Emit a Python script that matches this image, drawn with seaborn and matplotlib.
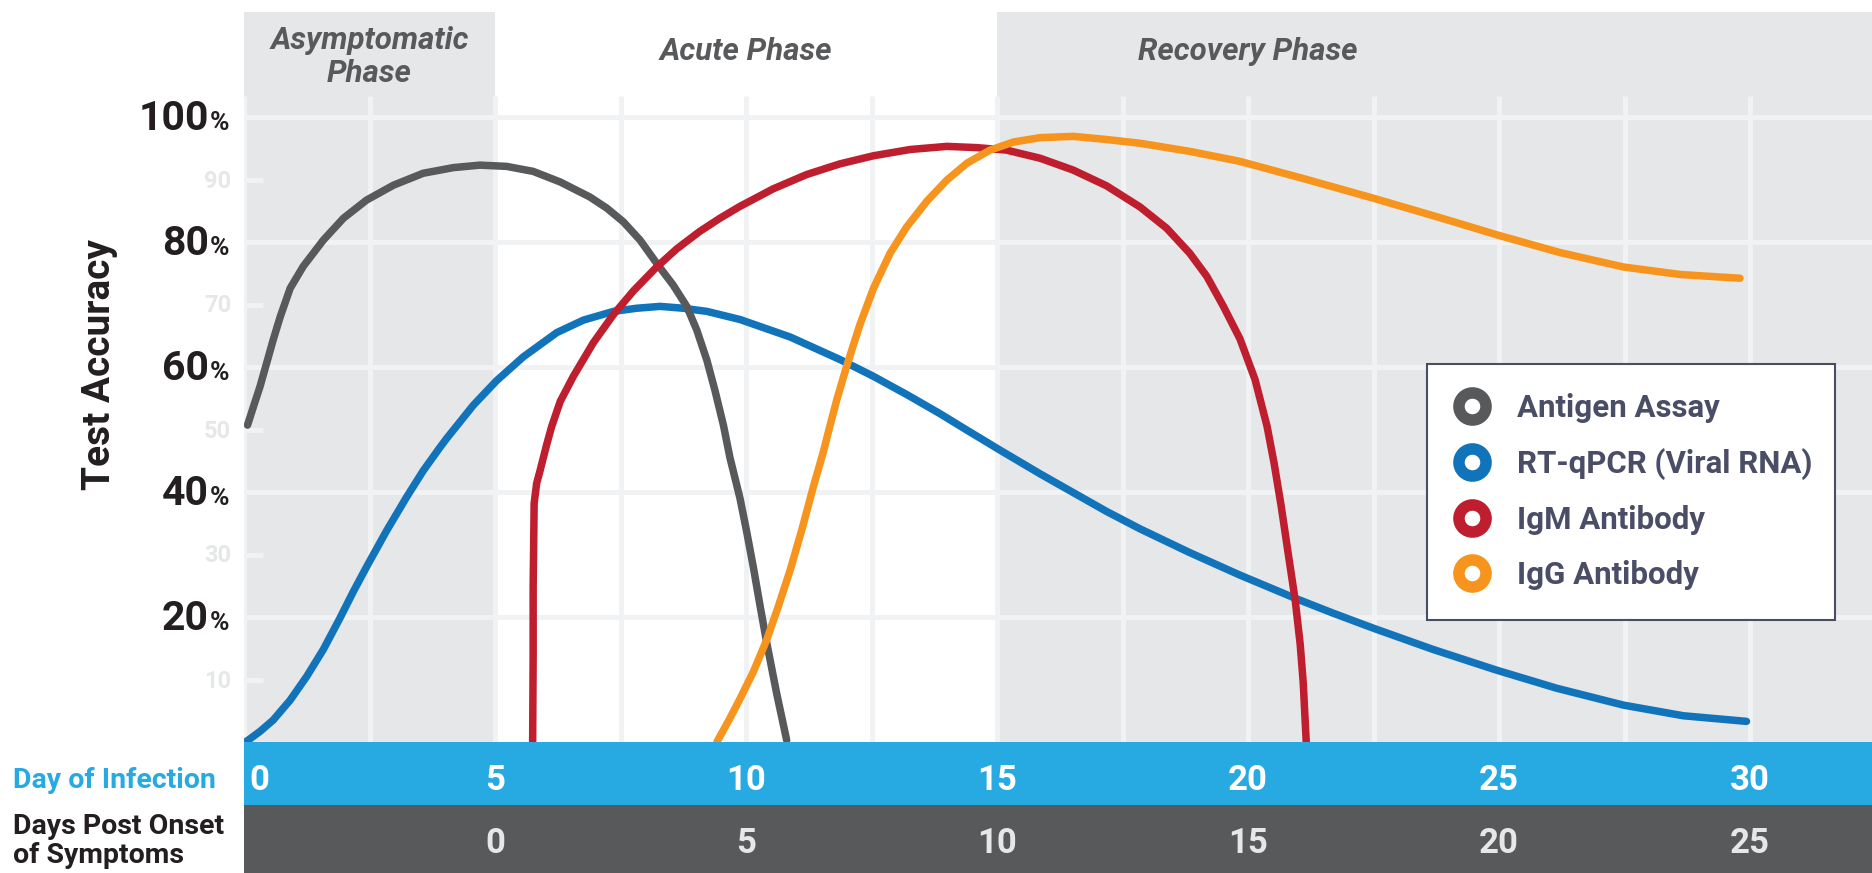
import numpy as np
import pandas as pd
import matplotlib
matplotlib.use("Agg")
import matplotlib.pyplot as plt
from matplotlib.lines import Line2D
import seaborn as sns

# ---- data: day of infection vs. test accuracy (%) ----
antigen_day = [0.07, 0.19, 0.32, 0.45, 0.58, 0.72, 0.92, 1.18, 1.58, 1.98, 2.44,
               2.98, 3.57, 4.17, 4.70, 5.23, 5.76, 6.30, 6.89, 7.23, 7.56, 7.89,
               8.22, 8.55, 8.82, 9.02, 9.22, 9.38, 9.55, 9.68, 9.88, 10.01, 10.15,
               10.28, 10.41, 10.61, 10.81]
antigen_acc = [50.7, 53.7, 56.9, 60.6, 64.3, 68.0, 72.6, 76.1, 80.3, 83.8, 86.7,
               89.1, 91.0, 91.9, 92.3, 92.1, 91.3, 89.6, 87.2, 85.4, 83.2, 80.3,
               76.6, 73.1, 69.7, 65.9, 61.1, 56.3, 50.7, 45.5, 39.0, 33.8, 27.8,
               21.8, 16.0, 7.8, 0.3]

rtpcr_day = [0.05, 0.32, 0.58, 0.92, 1.25, 1.58, 1.91, 2.18, 2.44, 2.84, 3.24,
             3.57, 3.90, 4.04, 4.57, 5.03, 5.56, 6.23, 6.76, 7.36, 7.82, 8.29,
             8.75, 9.22, 9.88, 10.88, 11.87, 12.54, 13.20, 13.85, 14.40, 15.06,
             15.86, 16.52, 17.18, 17.85, 18.84, 19.84, 20.97, 21.70, 22.50,
             23.69, 24.95, 26.15, 27.48, 28.67, 29.93]
rtpcr_acc = [0.1, 1.7, 3.5, 6.7, 10.5, 14.8, 19.8, 24.1, 28.0, 33.8, 39.2,
             43.4, 47.1, 48.6, 53.9, 57.8, 61.6, 65.5, 67.5, 68.9, 69.4, 69.7,
             69.4, 68.9, 67.6, 64.8, 61.2, 58.5, 55.6, 52.6, 49.9, 46.7,
             42.9, 39.9, 36.9, 34.1, 30.3, 26.7, 22.9, 20.6, 18.2,
             14.8, 11.5, 8.6, 5.9, 4.2, 3.3]

igm_day = [5.75, 5.76, 5.76, 5.78, 5.83, 5.90, 6.03, 6.13, 6.30, 6.56, 6.96,
           7.36, 7.76, 8.22, 8.62, 9.08, 9.48, 9.88, 10.54, 11.21, 11.87, 12.54,
           13.27, 14.00, 14.60, 15.19, 15.86, 16.52, 17.18, 17.85, 18.38, 18.84,
           19.18, 19.51, 19.84, 20.14, 20.38, 20.52, 20.66, 20.80, 20.94, 21.04,
           21.10, 21.16]
igm_acc = [0.0, 14.2, 24.9, 38.2, 41.4, 43.5, 47.6, 50.5, 54.5, 58.5, 63.9,
           68.4, 72.2, 76.0, 78.9, 81.7, 83.8, 85.7, 88.5, 90.8, 92.5, 93.8,
           94.8, 95.3, 95.1, 94.7, 93.4, 91.5, 89.0, 85.6, 82.2, 78.2,
           74.5, 69.7, 64.5, 58.0, 50.5, 44.6, 37.8, 30.2, 22.7, 15.6,
           9.5, 0.0]

igg_day = [9.42, 9.68, 9.88, 10.15, 10.41, 10.64, 10.88, 11.11, 11.34, 11.54,
           11.65, 11.81, 12.00, 12.27, 12.54, 12.87, 13.20, 13.60, 14.00, 14.40,
           14.86, 15.33, 15.86, 16.52, 17.18, 17.85, 18.84, 19.84, 21.17, 22.50,
           23.82, 25.02, 26.22, 27.48, 28.61, 29.80]
igg_acc = [0.0, 3.8, 6.9, 11.3, 16.3, 21.6, 27.5, 33.9, 40.8, 46.4,
           49.9, 54.8, 60.0, 66.8, 72.6, 78.2, 82.4, 86.5, 89.9, 92.6,
           94.7, 96.0, 96.7, 96.9, 96.4, 95.8, 94.5, 92.9, 90.0, 87.0,
           83.9, 81.0, 78.3, 76.0, 74.8, 74.2]

tests = ["Antigen Assay", "RT-qPCR (Viral RNA)", "IgM Antibody", "IgG Antibody"]
colors = ["#58595b", "#1174bb", "#be1e2d", "#f7941d"]

major_pct = [20, 40, 60, 80, 100]
minor_pct = [10, 30, 50, 70, 90]
infection_days = [0, 5, 10, 15, 20, 25, 30]
onset_days = [0, 5, 10, 15, 20, 25]
onset_offset = 5  # symptoms start on day 5 of infection

phases = ["Asymptomatic\nPhase", "Acute Phase", "Recovery Phase"]
phase_bounds = [(0, 5), (5, 15), (15, None)]

# ---- styling ----
sns.set_theme(style="white")
plt.rcParams["font.family"] = ["Roboto", "DejaVu Sans"]

PANEL = "#e6e7e8"
GRID = "#f1f2f3"
INK = "#231f20"
SKY = "#27aae1"
SLATE = "#4a4d66"

W, H, DPI = 1872, 873, 100
X0_PX, Y0_PX, TOP_PX = 244, 742, 12
PX_PER_DAY, PX_PER_PCT = 50.2, 6.25
x_max = (W - X0_PX) / PX_PER_DAY
y_max = (Y0_PX - TOP_PX) / PX_PER_PCT
grid_top = (Y0_PX - 96) / PX_PER_PCT

fig = plt.figure(figsize=(W / DPI, H / DPI), dpi=DPI)
ax = fig.add_axes([X0_PX / W, (H - Y0_PX) / H, 1 - X0_PX / W, (Y0_PX - TOP_PX) / H])

# phase shading (gray for asymptomatic and recovery columns)
for (a, b), shade in zip(phase_bounds, [True, False, True]):
    if shade:
        ax.axvspan(a, x_max if b is None else b, color=PANEL, lw=0, zorder=0)

# grid
ax.vlines(np.arange(0, 30.01, 2.5), 0, grid_top, colors=GRID, lw=3.6, zorder=1)
ax.hlines(major_pct, 0, x_max, colors=GRID, lw=3.6, zorder=1)
ax.hlines(minor_pct, 0, 0.38, colors=GRID, lw=3.6, zorder=1)

# curves
frames = []
for name, d, a in zip(tests, [antigen_day, rtpcr_day, igm_day, igg_day],
                      [antigen_acc, rtpcr_acc, igm_acc, igg_acc]):
    frames.append(pd.DataFrame({"Day": d, "Accuracy": a, "Test": name}))
df = pd.concat(frames, ignore_index=True)

draw_order = ["RT-qPCR (Viral RNA)", "Antigen Assay", "IgM Antibody", "IgG Antibody"]
palette = dict(zip(tests, colors))
for name in draw_order:
    sns.lineplot(data=df[df["Test"] == name], x="Day", y="Accuracy", color=palette[name],
                 sort=False, estimator=None, lw=5.4, ax=ax, legend=False, zorder=3)
for ln in ax.lines:
    ln.set_solid_capstyle("round")
    ln.set_solid_joinstyle("round")
ax.set_xlim(0, x_max)
ax.set_ylim(0, y_max)
ax.axis("off")

# phase titles
title_kw = dict(ha="center", va="center", fontsize=22.5, style="italic",
                weight="bold", color="#58595b")
ax.text(2.5, (Y0_PX - 57) / PX_PER_PCT, phases[0], linespacing=1.15, **title_kw)
ax.text(10, (Y0_PX - 51) / PX_PER_PCT, phases[1], **title_kw)
ax.text(20, (Y0_PX - 51) / PX_PER_PCT, phases[2], **title_kw)

# y tick labels
num_x = (209 - X0_PX) / PX_PER_DAY
pct_x = (210 - X0_PX) / PX_PER_DAY
lab_x = (231 - X0_PX) / PX_PER_DAY
for v in major_pct:
    yb = v - 13 / PX_PER_PCT
    ax.text(num_x, yb, f"{v}", ha="right", va="baseline", fontsize=29.5,
            weight="bold", color=INK, clip_on=False)
    ax.text(pct_x, yb, "%", ha="left", va="baseline", fontsize=19,
            weight="bold", color=INK, clip_on=False)
for v in minor_pct:
    ax.text(lab_x, v - 8 / PX_PER_PCT, f"{v}", ha="right", va="baseline", fontsize=17,
            weight="bold", color=PANEL, clip_on=False)

fig.text(99 / W, 1 - 365 / H, "Test Accuracy", rotation=90, ha="center", va="center",
         fontsize=28, weight="bold", color=INK)

# legend with ring markers
handles = [Line2D([], [], ls="none", marker="o", markersize=19.5, markeredgewidth=8.3,
                  markerfacecolor="white", markeredgecolor=c) for c in colors]
leg_x0, leg_x1, leg_y0 = 1427, 1835, 364
leg = ax.legend(handles, tests, loc="upper left", mode="expand",
                bbox_to_anchor=(leg_x0 / W, 1 - leg_y0 / H, (leg_x1 - leg_x0) / W, 0.0),
                bbox_transform=fig.transFigure, frameon=True, fancybox=False,
                framealpha=1, borderpad=0.94, handlelength=1.0, handletextpad=0.94,
                labelspacing=0.8, borderaxespad=0,
                prop={"family": "Roboto", "weight": "bold", "size": 22.5},
                labelcolor=SLATE)
leg.get_frame().set_edgecolor(SLATE)
leg.get_frame().set_linewidth(1.5)
leg.get_frame().set_facecolor("white")
leg.set_zorder(5)

# bottom scale bands
bar = fig.add_axes([X0_PX / W, 0, 1 - X0_PX / W, (H - Y0_PX) / H])
bar.set_xlim(0, x_max)
bar.set_ylim(0, H - Y0_PX)
bar.axis("off")
bar.axhspan(68, H - Y0_PX, color=SKY, lw=0)
bar.axhspan(0, 68, color="#58595b", lw=0)
for d in infection_days:
    xd = d + (0.3 if d == 0 else 0)
    bar.text(xd, H - 777, f"{d}", ha="center", va="center_baseline", fontsize=25,
             weight="bold", color="white")
for d in onset_days:
    bar.text(d + onset_offset, H - 840, f"{d}", ha="center", va="center_baseline",
             fontsize=25, weight="bold", color=PANEL)

fig.text(13 / W, 1 - 777 / H, "Day of Infection", ha="left", va="center_baseline",
         fontsize=20.5, weight="bold", color=SKY)
fig.text(13 / W, 1 - 841 / H, "Days Post Onset\nof Symptoms", ha="left", va="center",
         fontsize=20.5, weight="bold", color=INK, linespacing=1.12)

fig.savefig("out.png", dpi=DPI, facecolor="white")
